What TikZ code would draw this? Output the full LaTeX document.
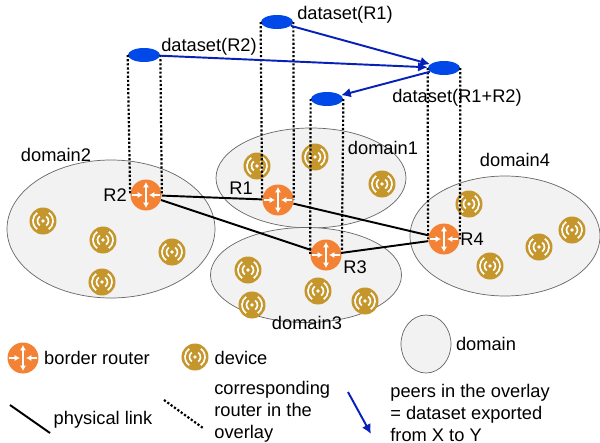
\documentclass[tikz,border=0pt]{standalone}
\usepackage{fontspec}
\setmainfont{Liberation Sans}
\usetikzlibrary{arrows.meta,shapes}
\definecolor{rorange}{RGB}{244,130,52}
\definecolor{dgold}{RGB}{196,150,44}
\definecolor{oblue}{RGB}{0,72,232}
\definecolor{ablue}{RGB}{6,32,184}
\tikzstyle{grn}=[every node/.style={text=black,font=\fontsize{10.4}{12.6}\selectfont,inner sep=0}]
\tikzstyle{dom}=[ellipse,draw=black!60,fill=black!5,line width=0.4pt]
\tikzstyle{ovl}=[ellipse,fill=oblue,minimum width=32*0.02cm,minimum height=14*0.02cm]
\tikzstyle{phys}=[draw=black,line width=1.1pt]
\tikzstyle{corr}=[draw=black,line width=1.25pt,dash pattern=on 1.25pt off 1.1pt]
\tikzstyle{peer}=[draw=ablue,line width=1.1pt,-{Latex[length=5.5pt,width=5.5pt]}]
\tikzstyle{router}=[circle,fill=rorange,minimum size=31*0.02cm,path picture={
  \draw[white,line width=0.9pt,{Latex[length=3pt,width=3.4pt]}-{Latex[length=3pt,width=3.4pt]}] (path picture bounding box.center)+(0,13) -- +(0,-13);
  \draw[white,line width=0.9pt,-{Latex[length=3pt,width=3.4pt]}] (path picture bounding box.center)+(-14,0) -- +(-3,0);
  \draw[white,line width=0.9pt,-{Latex[length=3pt,width=3.4pt]}] (path picture bounding box.center)+(14,0) -- +(3,0);}]
\tikzstyle{device}=[circle,fill=dgold,minimum size=27*0.02cm,path picture={
  \fill[white] (path picture bounding box.center) circle (1.8);
  \foreach \r in {5.5,10} {
    \draw[white,line width=0.95pt] (path picture bounding box.center)+(-55:\r) arc (-55:55:\r);
    \draw[white,line width=0.95pt] (path picture bounding box.center)+(125:\r) arc (125:235:\r);}}]
\begin{document}
\begin{tikzpicture}[grn,x=0.02cm,y=-0.02cm]
\path[use as bounding box] (0,0) rectangle (600,443);
% domains
\node[dom,minimum width=208*0.02cm,minimum height=138*0.02cm] (dom2) at (111,229) {};
\node[dom,minimum width=190*0.02cm,minimum height=100*0.02cm] (dom1) at (311,178) {};
\node[dom,minimum width=191*0.02cm,minimum height=95*0.02cm] (dom3) at (306,275) {};
\node[dom,minimum width=190*0.02cm,minimum height=120*0.02cm] (dom4) at (505,236) {};
\node[dom,minimum width=50*0.02cm,minimum height=58*0.02cm] (domkey) at (426,344) {};
% devices
\foreach \n/\x/\y in {a/43/221,b/103/240,c/172/252,d/102/282,e/257/166,f/315/157,g/382/184,
  h/248/270,i/252/305,j/318/291,k/365/301,l/469/204,m/490/266,n/539/247,o/572/230,key/195/357}
  \node[device] (dev\n) at (\x,\y) {};
% routers
\node[router] (R1) at (278,200) {};
\node[router] (R2) at (146,195) {};
\node[router] (R3) at (326,255) {};
\node[router] (R4) at (444,239) {};
\node[router] (Rkey) at (23,358) {};
% overlay
\node[ovl] (o1) at (277,22) {};
\node[ovl] (o2) at (144,55) {};
\node[ovl] (o3) at (327,99) {};
\node[ovl] (o12) at (444,68) {};
% labels
\node (l1) at (345,15) {dataset(R1)};
\node (l2) at (209,47) {dataset(R2)};
\node (l12) at (457,98) {dataset(R1+R2)};
\node (ld2) at (56,155) {domain2};
\node (ld1) at (383,148) {domain1};
\node (ld4) at (515,160) {domain4};
\node (ld3) at (307,323) {domain3};
\node (lr1) at (241,188) {R1};
\node (lr2) at (115,195) {R2};
\node (lr3) at (355,267) {R3};
\node (lr4) at (472,239) {R4};
\node (lk1) at (97,358) {border router};
\node (lk2) at (241,358) {device};
\node (lk3) at (486,344) {domain};
\node (lk4) at (103,420) {physical link};
\node[align=left,anchor=north west] (lk5) at (214,381) {corresponding\\router in the\\overlay};
\node[align=left,anchor=north west] (lk6) at (390,384) {peers in the overlay\\= dataset exported\\from X to Y};
% free ends of the key lines
\coordinate (p1) at (10,405);
\coordinate (p2) at (50,433);
\coordinate (q1) at (164,400);
\coordinate (q2) at (203,428);
\coordinate (s1) at (348,392);
\coordinate (s2) at (371,434);
% links
\path[phys]
  (R2) -- (R1)
  (R2) -- (R3)
  (R1) -- (R4)
  (R3) -- (R4)
  (p1) -- (p2);
\path[corr]
  (o1.west) -- (R1.west)
  (o1.east) -- (R1.east)
  (o2.west) -- (R2.west)
  (o2.east) -- (R2.east)
  (o3.west) -- (R3.west)
  (o3.east) -- (R3.east)
  (o12.west) -- (R4.west)
  (o12.east) -- (R4.east)
  (q1) -- (q2);
\draw[peer] (o1) -- (o12);
\draw[peer] (o2) -- (o12);
\draw[peer] (o12) -- (o3);
\draw[peer] (s1) -- (s2);
\end{tikzpicture}
\end{document}
